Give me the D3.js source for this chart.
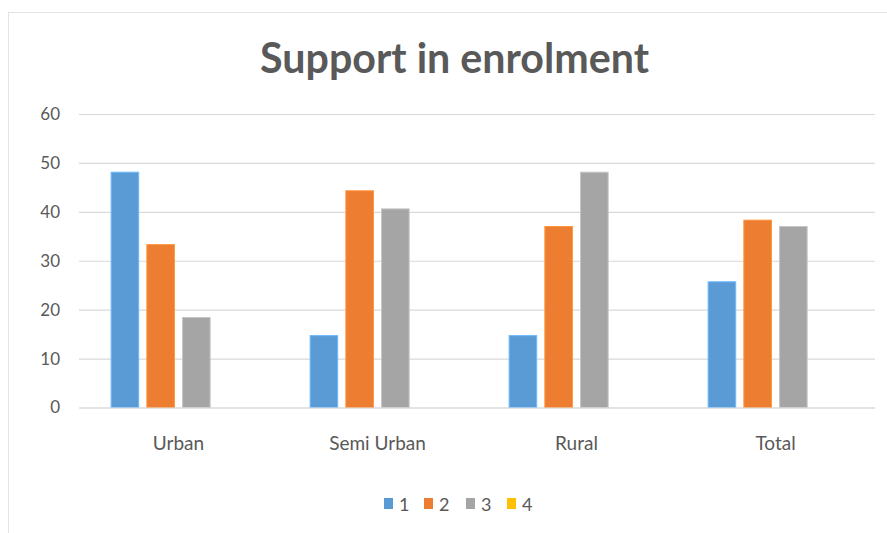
<!DOCTYPE html>
<html>
<head>
<meta charset="utf-8">
<script src="https://cdn.jsdelivr.net/npm/d3@7"></script>
<style>
  html, body { margin: 0; padding: 0; background: #fff; }
  svg { display: block; }
  text { font-family: Lato, "Open Sans", sans-serif; fill: #595959; }
</style>
</head>
<body>
<svg id="chart" width="887" height="533"></svg>
<script>
const title = "Support in enrolment";
const categories = ["Urban", "Semi Urban", "Rural", "Total"];
const seriesNames = ["1", "2", "3", "4"];
const series1 = [48.1, 14.7, 14.7, 25.7];
const series2 = [33.3, 44.3, 37.0, 38.3];
const series3 = [18.4, 40.6, 48.1, 37.0];
const series4 = [null, null, null, null];
const yTicks = [0, 10, 20, 30, 40, 50, 60];
const colors = ["#5b9bd5", "#ed7d31", "#a5a5a5", "#ffc000"];

const seriesValues = [series1, series2, series3, series4];
const svg = d3.select("#chart");
const W = 887, H = 533;
const margin = { left: 79, right: 12, top: 114, bottom: 125.5 };
const plotW = W - margin.left - margin.right;
const plotH = H - margin.top - margin.bottom;

// chart border
svg.append("rect").attr("x", 8.5).attr("y", 12.5).attr("width", W + 10).attr("height", H + 10)
  .attr("fill", "#fff").attr("stroke", "#e3e3e3").attr("stroke-width", 1);

const g = svg.append("g").attr("transform", `translate(${margin.left},${margin.top})`);

const y = d3.scaleLinear().domain([0, 60]).range([plotH, 0]);
const x0 = d3.scaleBand().domain(categories).range([0, plotW]).paddingInner(0.282).paddingOuter(0.141);
const x1 = d3.scaleBand().domain(seriesNames).range([0, x0.bandwidth()]).paddingInner(0.2).paddingOuter(0.1);

// gridlines
const yAxis = d3.axisLeft(y).tickValues(yTicks).tickSize(-plotW).tickFormat(d3.format("d"));
const ya = g.append("g").call(yAxis);
ya.select(".domain").remove();
ya.selectAll(".tick line").attr("stroke", "#d9d9d9").attr("stroke-width", 1.2);
ya.selectAll(".tick text").attr("x", -19).style("font-size", "17px").style("font-family", "Lato, sans-serif").attr("fill", "#595959");

// bars
const rows = categories.map((c, i) => ({ cat: c, vals: seriesNames.map((s, j) => ({ s, j, v: seriesValues[j][i] })) }));
const grp = g.selectAll(".grp").data(rows).join("g").attr("transform", d => `translate(${x0(d.cat)},0)`);
grp.selectAll("rect").data(d => d.vals.filter(v => v.v != null)).join("rect")
  .attr("x", d => x1(d.s) + 0.5)
  .attr("width", x1.bandwidth() - 1)
  .attr("y", d => y(d.v))
  .attr("height", d => y(0) - y(d.v))
  .attr("fill", d => colors[d.j])
  .attr("stroke", d => d3.color(colors[d.j]).brighter(0.5))
  .attr("stroke-width", 1);

// x axis
const xAxis = d3.axisBottom(x0).tickSize(0).tickPadding(29);
const xa = g.append("g").attr("transform", `translate(0,${plotH})`).call(xAxis);
xa.select(".domain").attr("stroke", "#d9d9d9").attr("stroke-width", 1.2);
xa.selectAll(".tick text").style("font-size", "19px").style("font-family", "Lato, sans-serif").attr("fill", "#595959");

// title
const t = svg.append("text").attr("x", 454.5).attr("y", 73).attr("text-anchor", "middle")
  .style("font-weight", "bold").style("font-size", "36px").text(title);
const len = t.node().getComputedTextLength();
t.style("font-size", (36 * 389 / len) + "px");

// legend
const legendX = [384, 424, 466, 507];
const lg = svg.append("g");
seriesNames.forEach((s, i) => {
  lg.append("rect").attr("x", legendX[i]).attr("y", 498).attr("width", 9).attr("height", 11).attr("fill", colors[i]);
  lg.append("text").attr("x", legendX[i] + 15).attr("y", 511).style("font-size", "18px").text(s);
});
</script>
</body>
</html>
